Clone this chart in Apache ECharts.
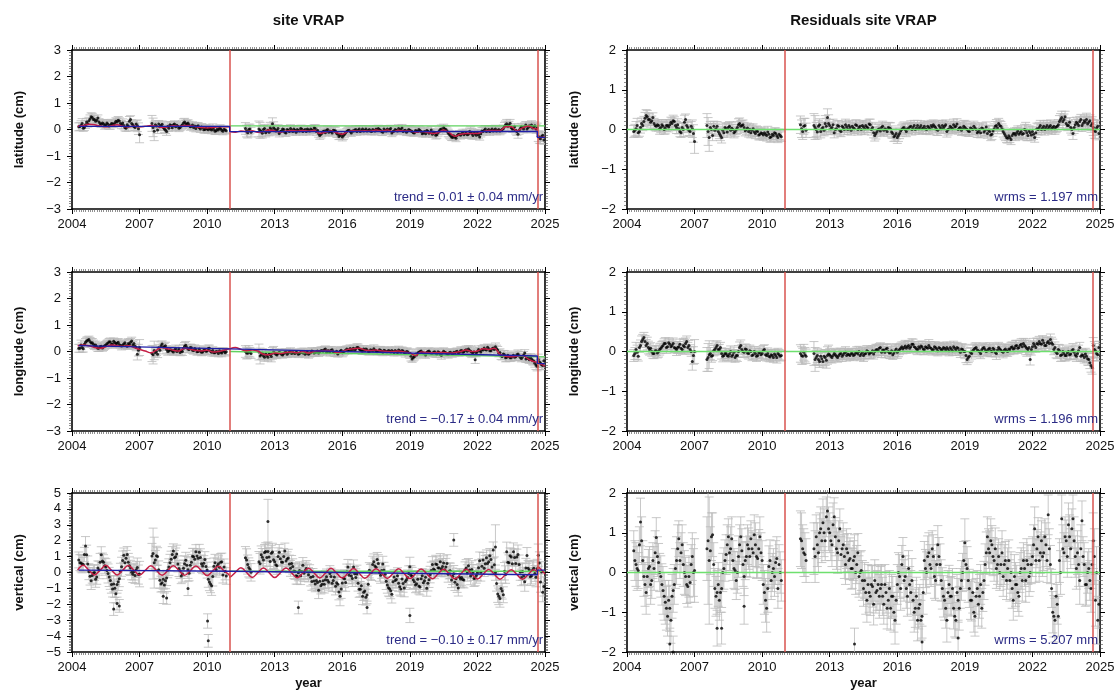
<!DOCTYPE html>
<html><head><meta charset="utf-8">
<script src="https://cdn.jsdelivr.net/npm/echarts@6/dist/echarts.min.js"></script>
<style>html,body{margin:0;padding:0;background:#fff}#c{width:1120px;height:691px}</style>
</head><body><div id="c"></div>
<script>
// ---------------- DATA ----------------
const epochs = [
 2004.3,2004.4,2004.5,2004.6,2004.7,2004.8,2004.9,
 2005.0,2005.1,2005.2,2005.3,2005.4,2005.5,2005.6,2005.7,2005.8,2005.9,
 2006.0,2006.1,2006.2,2006.3,2006.4,2006.5,2006.6,2006.7,2006.8,2006.9,
 2007.0,2007.6,2007.7,2007.8,2007.9,
 2008.0,2008.1,2008.2,2008.3,2008.4,2008.5,2008.6,2008.7,2008.8,2008.9,
 2009.0,2009.1,2009.2,2009.3,2009.4,2009.5,2009.6,2009.7,2009.8,2009.9,
 2010.0,2010.1,2010.2,2010.3,2010.4,2010.5,2010.6,2010.7,2010.8,
 2011.7,2011.8,2011.9,
 2012.3,2012.4,2012.5,2012.6,2012.7,2012.8,2012.9,
 2013.0,2013.1,2013.2,2013.3,2013.4,2013.5,2013.6,2013.7,2013.8,2013.9,
 2014.0,2014.1,2014.2,2014.3,2014.4,2014.5,2014.6,2014.7,2014.8,2014.9,
 2015.0,2015.1,2015.2,2015.3,2015.4,2015.5,2015.6,2015.7,2015.8,2015.9,
 2016.0,2016.1,2016.2,2016.3,2016.4,2016.5,2016.6,2016.7,2016.8,2016.9,
 2017.0,2017.1,2017.2,2017.3,2017.4,2017.5,2017.6,2017.7,2017.8,2017.9,
 2018.0,2018.1,2018.2,2018.3,2018.4,2018.5,2018.6,2018.7,2018.8,2018.9,
 2019.0,2019.1,2019.2,2019.3,2019.4,2019.5,2019.6,2019.7,2019.8,2019.9,
 2020.0,2020.1,2020.2,2020.3,2020.4,2020.5,2020.6,2020.7,2020.8,2020.9,
 2021.0,2021.1,2021.2,2021.3,2021.4,2021.5,2021.6,2021.7,2021.8,2021.9,
 2022.0,2022.1,2022.2,2022.3,2022.4,2022.5,2022.6,2022.7,2022.8,2022.9,
 2023.0,2023.1,2023.2,2023.3,2023.4,2023.5,2023.6,2023.7,2023.8,2023.9,
 2024.0,2024.1,2024.2,2024.3,2024.4,2024.5,2024.6,2024.7,2024.8,2024.9
];
// in-between epochs (second sample set)
const epochsB = [
 2004.35,2004.45,2004.55,2004.65,2004.75,2004.85,2004.95,
 2005.05,2005.15,2005.25,2005.35,2005.45,2005.55,2005.65,2005.75,2005.85,2005.95,
 2006.05,2006.15,2006.25,2006.35,2006.45,2006.55,2006.65,2006.75,2006.85,2006.95,
 2007.55,2007.65,2007.75,2007.85,2007.95,
 2008.05,2008.15,2008.25,2008.35,2008.45,2008.55,2008.65,2008.75,2008.85,2008.95,
 2009.05,2009.15,2009.25,2009.35,2009.45,2009.55,2009.65,2009.75,2009.85,2009.95,
 2010.05,2010.15,2010.25,2010.35,2010.45,2010.55,2010.65,2010.75,2010.85,
 2011.75,2011.85,2011.95,
 2012.35,2012.45,2012.55,2012.65,2012.75,2012.85,2012.95,
 2013.05,2013.15,2013.25,2013.35,2013.45,2013.55,2013.65,2013.75,2013.85,2013.95,
 2014.05,2014.15,2014.25,2014.35,2014.45,2014.55,2014.65,2014.75,2014.85,2014.95,
 2015.05,2015.15,2015.25,2015.35,2015.45,2015.55,2015.65,2015.75,2015.85,2015.95,
 2016.05,2016.15,2016.25,2016.35,2016.45,2016.55,2016.65,2016.75,2016.85,2016.95,
 2017.05,2017.15,2017.25,2017.35,2017.45,2017.55,2017.65,2017.75,2017.85,2017.95,
 2018.05,2018.15,2018.25,2018.35,2018.45,2018.55,2018.65,2018.75,2018.85,2018.95,
 2019.05,2019.15,2019.25,2019.35,2019.45,2019.55,2019.65,2019.75,2019.85,2019.95,
 2020.05,2020.15,2020.25,2020.35,2020.45,2020.55,2020.65,2020.75,2020.85,2020.95,
 2021.05,2021.15,2021.25,2021.35,2021.45,2021.55,2021.65,2021.75,2021.85,2021.95,
 2022.05,2022.15,2022.25,2022.35,2022.45,2022.55,2022.65,2022.75,2022.85,2022.95,
 2023.05,2023.15,2023.25,2023.35,2023.45,2023.55,2023.65,2023.75,2023.85,2023.95,
 2024.05,2024.15,2024.25,2024.35,2024.45,2024.55,2024.65,2024.75,2024.85,2024.95
];
const latPos = [
 0.10,0.15,0.05,0.18,0.22,0.40,0.45,
 0.38,0.35,0.28,0.20,0.22,0.18,0.20,0.16,0.22,0.25,
 0.28,0.32,0.18,0.15,0.05,0.12,0.38,0.18,0.08,0.14,
 -0.20,0.08,0.18,-0.02,0.10,
 0.20,0.02,-0.08,0.05,0.15,0.18,0.10,0.12,0.08,0.18,
 0.28,0.22,0.18,0.12,0.08,0.04,0.14,0.02,0.08,0.00,
 0.02,0.05,-0.02,0.00,-0.05,-0.02,0.03,-0.07,-0.02,
 0.04,-0.12,0.02,
 0.02,-0.08,0.00,-0.12,-0.03,0.07,0.22,
 0.02,-0.03,-0.15,-0.06,0.00,-0.13,-0.03,0.04,-0.08,-0.03,
 0.00,-0.06,0.02,-0.03,-0.08,-0.02,0.02,-0.04,0.04,-0.03,
 -0.23,-0.13,-0.06,-0.03,-0.10,-0.08,-0.03,-0.06,-0.18,-0.23,
 -0.28,-0.18,-0.08,-0.03,-0.13,-0.06,0.00,-0.03,-0.08,0.02,
 -0.03,-0.06,0.00,-0.08,-0.03,0.02,0.04,-0.03,-0.10,-0.03,
 0.02,0.00,-0.13,-0.06,-0.03,0.04,0.00,-0.08,-0.03,-0.06,
 -0.03,-0.08,-0.13,-0.06,0.00,-0.08,-0.13,-0.16,-0.06,-0.10,
 -0.18,-0.13,-0.20,-0.06,0.02,0.07,0.00,-0.13,-0.23,-0.30,
 -0.28,-0.23,-0.18,-0.16,-0.20,-0.13,-0.18,-0.10,-0.23,-0.16,
 -0.13,-0.28,-0.06,-0.03,-0.08,0.00,-0.03,-0.06,0.02,-0.03,
 -0.06,0.00,0.12,0.22,0.17,0.07,0.02,-0.03,-0.18,0.04,
 0.07,0.12,0.02,0.14,0.17,0.10,0.02,-0.25,-0.35,-0.22
];
const latPosB = [
 0.11,0.23,0.08,0.28,0.33,0.48,0.38,
 0.31,0.43,0.23,0.25,0.15,0.25,0.13,0.23,0.19,0.31,
 0.35,0.23,0.25,0.08,0.18,0.31,0.23,0.11,0.21,0.03,
 0.23,-0.07,0.13,0.21,0.15,
 0.08,-0.02,0.11,0.18,0.07,0.21,0.16,0.05,0.13,0.25,
 0.21,0.25,0.10,0.17,0.13,0.11,0.07,0.09,-0.01,0.05,
 -0.01,0.01,0.07,-0.07,0.01,0.05,-0.03,0.01,-0.05,
 -0.06,0.00,-0.10,
 -0.03,-0.14,0.04,-0.06,-0.10,0.00,0.07,
 -0.06,0.04,-0.08,0.02,-0.10,0.00,-0.08,-0.02,0.02,-0.10,
 -0.04,0.04,-0.08,0.00,0.02,-0.06,-0.02,0.06,-0.08,-0.16,
 -0.18,-0.08,-0.12,0.00,-0.06,-0.13,-0.04,-0.14,-0.26,-0.18,
 -0.23,-0.12,-0.04,-0.08,-0.06,-0.02,-0.08,0.02,-0.04,-0.06,
 0.02,-0.04,-0.06,0.00,-0.06,-0.02,0.00,-0.08,0.02,-0.06,
 -0.04,0.04,-0.08,0.00,-0.06,-0.02,0.06,-0.04,-0.10,0.00,
 -0.06,-0.12,-0.04,-0.08,-0.04,-0.16,-0.08,-0.04,-0.14,-0.02,
 -0.10,-0.22,-0.12,0.00,-0.04,0.02,-0.06,-0.18,-0.28,-0.24,
 -0.33,-0.18,-0.22,-0.12,-0.16,-0.20,-0.08,-0.16,-0.12,-0.22,
 -0.20,-0.16,-0.08,0.02,-0.04,-0.08,0.02,-0.02,-0.06,0.00,
 -0.02,0.04,0.17,0.12,0.24,0.02,0.10,-0.08,-0.03,0.10,
 0.02,0.17,0.08,0.10,0.06,0.14,0.07,-0.32,-0.26,-0.40
];
const latRes = [
 -0.05,0.02,-0.08,0.05,0.10,0.28,0.32,
 0.25,0.22,0.15,0.08,0.10,0.05,0.08,0.04,0.10,0.12,
 0.15,0.20,0.05,0.02,-0.08,0.00,0.25,0.05,-0.05,0.02,
 -0.30,-0.05,0.05,-0.15,-0.02,
 0.08,-0.10,-0.20,-0.08,0.02,0.05,-0.02,0.00,-0.05,0.05,
 0.15,0.10,0.05,0.00,-0.05,-0.08,0.02,-0.10,-0.05,-0.12,
 -0.10,-0.08,-0.15,-0.12,-0.18,-0.15,-0.10,-0.20,-0.15,
 0.12,-0.05,0.10,
 0.10,0.00,0.08,-0.05,0.05,0.15,0.30,
 0.10,0.05,-0.08,0.02,0.08,-0.05,0.05,0.12,0.00,0.05,
 0.08,0.02,0.10,0.05,0.00,0.06,0.10,0.04,0.12,0.05,
 -0.15,-0.05,0.02,0.05,-0.02,0.00,0.05,0.02,-0.10,-0.15,
 -0.20,-0.10,0.00,0.05,-0.05,0.02,0.08,0.05,0.00,0.10,
 0.05,0.02,0.08,0.00,0.05,0.10,0.12,0.05,-0.02,0.05,
 0.10,0.08,-0.05,0.02,0.05,0.12,0.08,0.00,0.05,0.02,
 0.05,0.00,-0.05,0.02,0.08,0.00,-0.05,-0.08,0.02,-0.02,
 -0.10,-0.05,-0.12,0.02,0.10,0.15,0.08,-0.05,-0.15,-0.22,
 -0.20,-0.15,-0.10,-0.08,-0.12,-0.05,-0.10,-0.02,-0.15,-0.08,
 -0.05,-0.20,0.02,0.05,0.00,0.08,0.05,0.02,0.10,0.05,
 0.02,0.08,0.20,0.30,0.25,0.15,0.10,0.05,-0.10,0.12,
 0.15,0.20,0.10,0.22,0.25,0.18,0.10,0.05,-0.05,0.08
];
const latResB = [
 -0.02,0.10,-0.05,0.15,0.20,0.35,0.25,
 0.18,0.30,0.10,0.12,0.02,0.12,0.00,0.10,0.06,0.18,
 0.22,0.10,0.12,-0.05,0.05,0.18,0.10,-0.02,0.08,-0.10,
 0.10,-0.20,0.00,0.08,0.02,
 -0.05,-0.15,-0.02,0.05,-0.06,0.08,0.03,-0.08,0.00,0.12,
 0.08,0.12,-0.03,0.04,0.00,-0.02,-0.06,-0.04,-0.14,-0.08,
 -0.14,-0.12,-0.06,-0.20,-0.12,-0.08,-0.16,-0.12,-0.18,
 0.02,0.08,-0.02,
 0.05,-0.06,0.12,0.02,-0.02,0.08,0.15,
 0.02,0.12,0.00,0.10,-0.02,0.08,0.00,0.06,0.10,-0.02,
 0.04,0.12,0.00,0.08,0.10,0.02,0.06,0.14,0.00,-0.08,
 -0.10,0.00,-0.04,0.08,0.02,-0.05,0.04,-0.06,-0.18,-0.10,
 -0.15,-0.04,0.04,0.00,0.02,0.06,0.00,0.10,0.04,0.02,
 0.10,0.04,0.02,0.08,0.02,0.06,0.08,0.00,0.10,0.02,
 0.04,0.12,0.00,0.08,0.02,0.06,0.14,0.04,-0.02,0.08,
 0.02,-0.04,0.04,0.00,0.04,-0.08,0.00,0.04,-0.06,0.06,
 -0.02,-0.14,-0.04,0.08,0.04,0.10,0.02,-0.10,-0.20,-0.16,
 -0.25,-0.10,-0.14,-0.04,-0.08,-0.12,0.00,-0.08,-0.04,-0.14,
 -0.12,-0.08,0.00,0.10,0.04,0.00,0.10,0.06,0.02,0.08,
 0.06,0.12,0.25,0.20,0.32,0.10,0.18,0.00,0.05,0.18,
 0.10,0.25,0.16,0.18,0.14,0.22,0.15,-0.02,0.04,-0.10
];
const lonPos = [
 0.12,0.25,0.10,0.35,0.42,0.38,0.33,
 0.22,0.18,0.13,0.20,0.18,0.25,0.32,0.36,0.28,0.34,
 0.31,0.26,0.21,0.28,0.23,0.30,0.35,0.25,0.20,-0.10,
 0.15,-0.12,-0.05,-0.10,0.05,
 0.28,0.18,0.08,0.02,0.06,-0.02,0.10,0.03,-0.04,0.00,
 0.20,0.15,0.08,0.14,0.04,0.08,0.00,0.02,-0.02,0.06,
 0.02,0.12,-0.03,-0.05,0.00,-0.08,-0.03,0.02,-0.05,
 0.00,-0.07,-0.03,
 -0.02,-0.12,-0.17,-0.09,-0.22,-0.12,-0.07,
 -0.06,-0.13,-0.03,-0.10,-0.08,-0.03,-0.06,0.00,-0.04,-0.08,
 -0.05,-0.08,-0.02,0.00,-0.06,-0.10,-0.05,0.00,-0.04,0.02,
 -0.01,0.04,0.07,-0.03,0.03,0.05,-0.01,-0.04,-0.09,0.01,
 -0.05,0.02,0.09,0.07,0.05,0.12,0.09,0.15,0.07,0.02,
 0.03,0.07,0.00,0.05,0.10,0.03,0.00,0.05,-0.03,0.03,
 -0.01,0.02,0.04,-0.04,0.00,0.06,-0.02,0.02,-0.08,-0.01,
 -0.08,-0.28,-0.20,-0.13,-0.03,0.02,-0.06,-0.13,0.00,-0.03,
 -0.07,-0.01,-0.09,-0.04,-0.14,0.01,-0.05,-0.11,-0.03,-0.09,
 -0.06,0.01,-0.03,0.04,-0.01,0.07,0.09,0.01,-0.06,-0.31,
 0.00,0.03,0.08,0.13,0.06,0.10,0.03,0.13,0.18,0.06,
 -0.04,-0.19,-0.12,-0.22,-0.19,-0.24,-0.14,-0.20,-0.09,-0.22,
 -0.21,-0.06,-0.24,-0.31,-0.28,-0.36,-0.51,-0.30,-0.43,-0.53
];
const lonPosB = [
 0.12,0.15,0.27,0.40,0.45,0.32,0.27,
 0.25,0.12,0.19,0.13,0.22,0.29,0.37,0.27,0.39,0.29,
 0.35,0.23,0.25,0.33,0.20,0.27,0.40,0.30,0.15,0.05,
 -0.08,0.04,0.00,0.14,0.22,
 0.17,0.22,0.00,0.07,0.02,0.06,0.00,0.10,0.02,0.12,
 0.24,0.09,0.15,0.05,0.11,-0.01,0.09,-0.03,0.05,0.01,
 0.11,0.01,0.04,-0.05,-0.01,0.03,-0.06,0.01,-0.01,
 -0.06,0.02,-0.08,
 -0.17,-0.07,-0.22,-0.15,-0.09,-0.19,-0.03,
 -0.10,-0.08,-0.06,-0.13,-0.04,-0.10,-0.02,-0.08,-0.06,-0.03,
 -0.10,-0.04,-0.06,-0.10,-0.02,-0.06,0.02,-0.06,-0.02,-0.06,
 0.03,0.01,0.09,0.03,-0.03,0.07,-0.05,0.01,-0.05,0.05,
 -0.01,0.05,0.03,0.11,0.09,0.05,0.15,0.09,0.03,0.09,
 0.09,0.01,0.07,0.03,0.05,-0.01,0.07,0.01,0.05,-0.01,
 0.04,-0.02,0.00,0.04,-0.04,0.02,0.04,-0.04,0.00,-0.06,
 -0.18,-0.23,-0.10,-0.06,0.00,-0.04,-0.08,-0.04,0.02,-0.08,
 -0.03,-0.07,-0.01,-0.11,-0.05,-0.03,-0.09,-0.05,-0.07,-0.03,
 -0.01,-0.05,0.03,-0.03,0.05,0.01,0.04,-0.03,-0.01,-0.06,
 0.08,-0.02,0.06,0.08,0.16,0.03,0.10,0.08,0.10,-0.07,
 -0.16,-0.09,-0.24,-0.14,-0.24,-0.18,-0.22,-0.12,-0.16,-0.26,
 -0.14,-0.28,-0.26,-0.22,-0.34,-0.44,-0.56,-0.40,-0.50,-0.35
];
const lonRes = [
 -0.10,0.05,-0.12,0.15,0.30,0.25,0.20,
 0.05,0.00,-0.05,0.02,0.00,0.08,0.15,0.20,0.12,0.18,
 0.15,0.10,0.05,0.12,0.08,0.15,0.20,0.10,0.05,-0.25,
 0.00,-0.15,-0.05,-0.10,0.05,
 0.15,0.05,-0.05,-0.10,-0.05,-0.12,0.00,-0.08,-0.15,-0.10,
 0.10,0.05,-0.02,0.05,-0.05,0.00,-0.08,-0.05,-0.10,-0.02,
 -0.05,0.05,-0.10,-0.12,-0.08,-0.15,-0.10,-0.05,-0.12,
 -0.05,-0.12,-0.08,
 -0.05,-0.15,-0.20,-0.12,-0.25,-0.15,-0.10,
 -0.08,-0.15,-0.05,-0.12,-0.10,-0.05,-0.08,-0.02,-0.06,-0.10,
 -0.05,-0.08,-0.02,0.00,-0.06,-0.10,-0.05,0.00,-0.04,0.02,
 0.00,0.05,0.08,-0.02,0.04,0.06,0.00,-0.03,-0.08,0.02,
 -0.02,0.05,0.12,0.10,0.08,0.15,0.12,0.18,0.10,0.05,
 0.08,0.12,0.05,0.10,0.15,0.08,0.05,0.10,0.02,0.08,
 0.05,0.08,0.10,0.02,0.06,0.12,0.04,0.08,-0.02,0.05,
 0.00,-0.20,-0.12,-0.05,0.05,0.10,0.02,-0.05,0.08,0.05,
 0.02,0.08,0.00,0.05,-0.05,0.10,0.04,-0.02,0.06,0.00,
 0.05,0.12,0.08,0.15,0.10,0.18,0.20,0.12,0.05,-0.20,
 0.12,0.15,0.20,0.25,0.18,0.22,0.15,0.25,0.30,0.18,
 0.10,-0.05,0.02,-0.08,-0.05,-0.10,0.00,-0.06,0.05,-0.08,
 -0.05,0.10,-0.08,-0.15,-0.12,-0.20,-0.35,0.15,0.02,-0.08
];
const lonResB = [
 -0.05,-0.02,0.10,0.25,0.35,0.15,0.10,
 0.08,-0.05,0.02,-0.04,0.05,0.12,0.20,0.10,0.22,0.12,
 0.20,0.08,0.10,0.18,0.05,0.12,0.25,0.15,0.00,-0.10,
 -0.20,-0.08,-0.12,0.02,0.10,
 0.05,0.10,-0.12,-0.05,-0.10,-0.06,-0.12,-0.02,-0.10,0.00,
 0.15,0.00,0.06,-0.04,0.02,-0.10,0.00,-0.12,-0.04,-0.08,
 0.02,-0.08,-0.05,-0.14,-0.10,-0.06,-0.15,-0.08,-0.10,
 -0.10,-0.02,-0.12,
 -0.20,-0.10,-0.25,-0.18,-0.12,-0.22,-0.06,
 -0.12,-0.10,-0.08,-0.15,-0.06,-0.12,-0.04,-0.10,-0.08,-0.05,
 -0.10,-0.04,-0.06,-0.10,-0.02,-0.06,0.02,-0.06,-0.02,-0.06,
 0.04,0.02,0.10,0.04,-0.02,0.08,-0.04,0.02,-0.04,0.06,
 0.02,0.08,0.06,0.14,0.12,0.08,0.18,0.12,0.06,0.12,
 0.14,0.06,0.12,0.08,0.10,0.04,0.12,0.06,0.10,0.04,
 0.10,0.04,0.06,0.10,0.02,0.08,0.10,0.02,0.06,0.00,
 -0.10,-0.15,-0.02,0.02,0.08,0.04,0.00,0.04,0.10,0.00,
 0.06,0.02,0.08,-0.02,0.04,0.06,0.00,0.04,0.02,0.06,
 0.10,0.06,0.14,0.08,0.16,0.12,0.15,0.08,0.10,0.05,
 0.20,0.10,0.18,0.20,0.28,0.15,0.22,0.20,0.22,0.05,
 -0.02,0.05,-0.10,0.00,-0.10,-0.04,-0.08,0.02,-0.02,-0.12,
 0.02,-0.12,-0.10,-0.06,-0.18,-0.28,-0.40,0.05,-0.05,0.10
];
const upPos = [
 0.79,0.59,0.50,1.66,0.54,-0.24,-0.19,
 0.00,-0.29,0.16,1.12,0.64,0.35,-0.06,-0.51,-1.04,-0.99,
 -0.75,-0.39,0.36,1.09,0.89,0.65,0.29,-0.11,-0.19,0.31,
 -0.10,1.19,0.79,1.01,-0.49,
 -0.65,-0.79,-0.34,0.34,0.84,1.35,0.99,0.54,0.11,-0.09,
 0.55,0.46,-0.04,0.64,0.99,1.30,0.89,0.94,0.41,0.81,
 0.15,-0.59,-0.84,0.39,0.19,0.55,0.64,-0.16,0.06,
 0.93,0.50,0.20,
 0.67,1.12,0.78,1.32,1.32,0.69,1.29,
 0.67,0.43,1.28,0.66,1.01,0.72,0.91,0.26,0.38,0.08,
 -0.24,0.12,0.07,-0.05,0.25,-0.14,-0.30,-0.25,-0.73,-0.63,
 -0.55,-0.74,-0.74,-0.26,-0.61,-0.25,-0.51,-0.86,-0.74,-1.49,
 -0.66,-0.40,0.05,-0.17,-0.22,0.34,-0.32,-0.67,-1.05,-1.50,
 -1.17,-1.41,0.14,0.02,0.67,0.33,0.57,-0.18,0.54,-0.11,
 -0.78,-1.02,-1.37,-0.29,-0.44,-0.68,-1.04,-0.69,-0.57,-0.32,
 0.36,-0.23,-0.58,-0.70,-0.85,-0.39,-0.65,-0.30,-0.68,-0.13,
 0.50,0.16,0.51,0.29,0.24,0.60,0.34,-0.11,0.11,-0.24,
 -0.61,-0.75,-0.30,-0.32,-0.47,0.29,0.43,-0.22,0.00,-0.35,
 -0.02,0.74,0.39,0.27,0.92,0.68,0.82,1.42,-0.01,-1.36,
 -1.63,-1.17,0.08,1.31,0.61,0.97,1.31,0.56,1.13,0.03,
 0.06,-0.58,1.07,0.15,-0.20,0.26,-0.30,1.09,-0.59,-1.24
];
const upPosB = [
 0.62,0.53,1.13,1.12,0.05,-0.52,-0.03,
 -0.43,0.28,0.65,0.72,0.43,0.13,-0.28,-0.75,-0.72,-1.33,
 -0.58,0.08,0.75,0.62,1.13,0.43,0.02,0.05,0.18,-0.13,
 1.03,0.62,1.05,0.18,-0.73,
 -0.43,-0.52,0.15,0.62,1.13,0.93,1.17,0.25,-0.22,0.27,
 0.77,0.18,0.45,1.02,0.83,1.03,1.27,0.55,0.58,0.37,
 -0.43,-0.72,-0.25,0.62,0.43,0.33,0.67,0.35,-0.22,
 0.79,0.32,0.01,
 0.55,0.96,1.26,0.95,0.98,1.21,0.80,
 0.49,1.00,0.87,0.64,1.35,0.85,0.54,0.57,0.10,-0.21,
 -0.02,-0.21,0.46,0.13,0.04,0.04,-0.57,-0.54,-0.51,-1.12,
 -0.83,-0.52,-0.45,-0.48,-0.07,-0.67,-0.28,-0.65,-1.22,-1.03,
 -0.34,-0.63,0.34,0.01,-0.38,-0.08,-0.09,-1.06,-0.83,-1.24,
 -1.55,-0.74,0.03,0.50,0.41,0.81,0.00,0.13,0.16,-0.55,
 -0.96,-1.15,-0.58,-0.51,-0.20,-0.90,-0.41,-0.98,-0.45,-0.06,
 -0.17,-0.46,-0.79,-0.42,-0.91,-0.21,-0.52,-0.99,-0.46,0.13,
 0.22,0.53,0.30,0.67,0.38,0.18,0.57,0.10,-0.47,-0.08,
 -0.39,-0.98,-0.41,-0.44,0.17,-0.03,0.16,0.19,-0.38,-0.19,
 0.30,0.01,0.78,0.55,0.56,1.06,0.35,0.48,-0.69,-1.50,
 -1.01,-1.40,-0.13,0.64,1.05,0.55,0.94,0.97,0.50,-0.31,
 -0.22,0.29,0.26,-0.27,0.14,-0.06,0.23,0.60,0.03,-0.88
];
const upRes = [
 0.55,0.20,0.05,1.27,0.30,-0.30,-0.10,
 0.15,-0.20,0.10,0.88,0.25,-0.10,-0.45,-0.75,-1.10,-0.90,
 -0.60,-0.30,0.30,0.85,0.50,0.20,-0.10,-0.35,-0.25,0.40,
 0.05,0.80,0.55,0.95,-0.40,
 -0.50,-0.70,-0.40,0.10,0.45,0.90,0.60,0.30,0.05,0.00,
 0.70,0.55,-0.10,0.40,0.60,0.85,0.50,0.70,0.35,0.90,
 0.30,-0.50,-0.90,0.15,-0.20,0.10,0.25,-0.40,0.00,
 0.85,0.60,0.45,
 0.60,0.90,0.50,1.10,1.25,0.80,1.55,
 1.00,0.70,1.40,0.60,0.80,0.45,0.70,0.20,0.50,0.35,
 0.10,0.40,0.20,-0.10,0.05,-0.40,-0.50,-0.30,-0.60,-0.35,
 -0.20,-0.45,-0.60,-0.30,-0.80,-0.50,-0.70,-0.90,-0.60,-1.20,
 -0.30,-0.10,0.20,-0.20,-0.40,0.10,-0.50,-0.70,-0.90,-1.20,
 -0.80,-1.10,0.30,0.00,0.50,0.10,0.40,-0.20,0.70,0.20,
 -0.40,-0.70,-1.20,-0.30,-0.60,-0.90,-1.20,-0.70,-0.40,0.00,
 0.75,0.10,-0.40,-0.70,-1.00,-0.60,-0.80,-0.30,-0.50,0.20,
 0.90,0.50,0.70,0.30,0.10,0.40,0.20,-0.10,0.30,0.10,
 -0.20,-0.40,-0.10,-0.30,-0.60,0.10,0.30,-0.20,0.20,0.00,
 0.40,1.10,0.60,0.30,0.80,0.50,0.70,1.45,0.20,-1.00,
 -1.20,-0.80,0.30,1.35,0.50,0.80,1.20,0.60,1.35,0.40,
 0.50,-0.20,1.30,0.20,-0.30,0.10,-0.40,0.80,-0.70,-1.20
];
const upResB = [
 0.30,0.10,0.70,0.80,-0.10,-0.50,0.10,
 -0.30,0.30,0.50,0.40,0.00,-0.30,-0.60,-0.90,-0.70,-1.20,
 -0.45,0.10,0.60,0.30,0.70,0.00,-0.30,-0.10,0.20,0.00,
 0.60,0.30,0.90,0.20,-0.60,
 -0.30,-0.50,0.00,0.30,0.70,0.50,0.85,0.10,-0.20,0.40,
 0.90,0.20,0.30,0.70,0.40,0.60,0.95,0.40,0.60,0.50,
 -0.30,-0.70,-0.40,0.30,0.00,-0.10,0.35,0.20,-0.20,
 0.80,0.50,0.30,
 0.40,0.70,1.00,0.80,1.00,1.40,1.10,
 0.80,1.20,0.90,0.50,1.10,0.60,0.40,0.60,0.30,0.10,
 0.30,0.00,0.50,0.00,-0.20,-0.20,-0.70,-0.50,-0.30,-0.80,
 -0.50,-0.30,-0.40,-0.60,-0.30,-0.90,-0.40,-0.60,-1.00,-0.70,
 0.00,-0.40,0.40,-0.10,-0.60,-0.30,-0.20,-1.00,-0.60,-0.90,
 -1.20,-0.50,0.10,0.40,0.20,0.60,-0.10,0.20,0.40,-0.20,
 -0.60,-0.90,-0.50,-0.60,-0.40,-1.10,-0.50,-0.90,-0.20,0.30,
 0.20,-0.20,-0.70,-0.50,-1.10,-0.40,-0.60,-0.90,-0.20,0.50,
 0.60,0.80,0.40,0.60,0.20,0.00,0.50,0.20,-0.20,0.30,
 0.00,-0.70,-0.30,-0.50,0.00,-0.20,0.10,0.30,-0.10,0.20,
 0.70,0.30,0.90,0.50,0.40,0.90,0.30,0.60,-0.40,-1.10,
 -0.60,-1.10,0.00,0.60,0.90,0.40,0.90,1.10,0.80,0.10,
 0.20,0.60,0.40,-0.30,0.00,-0.20,0.20,0.40,0.00,-0.80
];
const horErr = [
 0.15,0.18,0.12,0.14,0.13,0.15,0.16,
 0.14,0.12,0.13,0.12,0.14,0.13,0.12,0.15,0.12,0.13,
 0.14,0.12,0.15,0.13,0.12,0.18,0.14,0.13,0.12,0.22,
 0.30,0.35,0.15,0.13,0.14,
 0.12,0.13,0.14,0.12,0.13,0.12,0.14,0.13,0.12,0.15,
 0.14,0.12,0.13,0.12,0.14,0.13,0.12,0.13,0.12,0.14,
 0.13,0.12,0.14,0.12,0.13,0.12,0.14,0.13,0.12,
 0.22,0.20,0.18,
 0.30,0.18,0.15,0.16,0.14,0.20,0.22,
 0.15,0.14,0.13,0.12,0.14,0.13,0.12,0.14,0.13,0.12,
 0.13,0.12,0.14,0.13,0.12,0.15,0.13,0.12,0.14,0.13,
 0.14,0.13,0.12,0.13,0.14,0.12,0.13,0.15,0.12,0.14,
 0.15,0.13,0.12,0.14,0.13,0.12,0.14,0.13,0.12,0.13,
 0.12,0.14,0.13,0.12,0.15,0.13,0.12,0.14,0.13,0.12,
 0.13,0.12,0.14,0.13,0.12,0.14,0.13,0.12,0.13,0.14,
 0.18,0.13,0.12,0.14,0.13,0.12,0.14,0.13,0.12,0.13,
 0.12,0.14,0.13,0.12,0.15,0.13,0.12,0.14,0.13,0.12,
 0.13,0.12,0.14,0.13,0.12,0.14,0.13,0.20,0.13,0.14,
 0.13,0.12,0.14,0.13,0.12,0.14,0.13,0.12,0.14,0.13,
 0.14,0.13,0.15,0.16,0.14,0.13,0.12,0.14,0.15,0.13,
 0.14,0.13,0.15,0.14,0.16,0.15,0.17,0.20,0.18,0.16
];
const upErr = [
 0.50,0.55,0.45,0.60,0.50,0.55,0.48,
 0.50,0.45,0.55,0.50,0.48,0.52,0.60,0.55,0.50,0.58,
 0.55,0.50,0.60,0.45,0.50,0.55,0.48,0.52,0.50,0.60,
 0.80,1.60,0.60,0.55,0.50,
 0.55,0.50,0.48,0.52,0.50,0.45,0.55,0.50,0.48,0.52,
 0.50,0.55,0.48,0.50,0.52,0.45,0.50,0.55,0.48,0.50,
 0.50,0.55,0.60,0.52,0.48,0.50,0.55,0.50,0.52,
 0.70,0.60,0.55,
 0.65,0.55,0.50,0.55,0.60,0.50,0.55,
 0.50,0.55,0.48,0.52,0.50,0.45,0.55,0.50,0.48,0.52,
 0.50,0.55,0.48,0.52,0.50,0.45,0.55,0.50,0.48,0.52,
 0.52,0.50,0.55,0.48,0.50,0.52,0.45,0.55,0.50,0.60,
 0.50,0.55,0.48,0.52,0.50,0.45,0.55,0.50,0.48,0.52,
 0.50,0.55,0.48,0.52,0.50,0.45,0.55,0.50,0.48,0.52,
 0.52,0.50,0.55,0.48,0.50,0.52,0.45,0.55,0.50,0.48,
 0.60,0.55,0.48,0.52,0.50,0.45,0.55,0.50,0.48,0.52,
 0.50,0.55,0.48,0.52,0.50,0.45,0.55,0.50,0.48,0.52,
 0.52,0.50,0.55,0.48,0.50,0.52,0.45,0.55,0.50,0.48,
 0.50,0.55,0.48,0.52,0.50,0.45,0.55,0.50,0.48,0.52,
 0.55,0.50,0.55,0.60,0.50,0.52,0.55,0.50,0.60,0.52,
 0.55,0.60,0.50,0.55,0.52,0.50,0.60,0.70,0.65,0.60
];
const upOutT = [2005.85,2006.0,2006.1,2008.05,2008.2,2009.15,2010.02,2010.05,2012.7,2014.05,2017.1,2019.0,2020.95,2022.8];
const upOutV = [-2.30,-1.95,-2.10,-1.50,-1.60,-1.00,-3.05,-4.30,3.20,-2.20,-2.20,-2.70,2.05,1.60];
const upOutE = [0.40,0.40,0.40,0.45,0.40,0.45,0.45,0.40,1.40,0.40,0.40,0.45,0.40,1.40];
const upResOutT = [2005.9,2006.05,2008.0,2008.2,2009.2,2014.1,2017.1,2018.7];
const upResOutV = [-1.80,-2.00,-1.40,-1.40,-0.85,-1.80,-1.75,-1.65];
const upResOutE = [0.40,0.40,0.45,0.40,0.45,0.40,0.40,0.45];
const modelT = [
 2004.25,2004.5,2004.75,
 2005,2005.25,2005.5,2005.75, 2006,2006.25,2006.5,2006.75, 2007,2007.25,2007.5,2007.75,
 2008,2008.25,2008.5,2008.75, 2009,2009.25,2009.5,2009.75, 2010,2010.25,2010.5,2010.75,
 2011.0, 2011.01,
 2011.25,2011.5,2011.75,
 2012,2012.25,2012.5,2012.75, 2013,2013.25,2013.5,2013.75, 2014,2014.25,2014.5,2014.75,
 2015,2015.25,2015.5,2015.75, 2016,2016.25,2016.5,2016.75, 2017,2017.25,2017.5,2017.75,
 2018,2018.25,2018.5,2018.75, 2019,2019.25,2019.5,2019.75, 2020,2020.25,2020.5,2020.75,
 2021,2021.25,2021.5,2021.75, 2022,2022.25,2022.5,2022.75, 2023,2023.25,2023.5,2023.75,
 2024,2024.25,2024.5,
 2024.66,2024.67,2024.75,2025
];
const latModel = [
 0.12,0.15,0.20,
 0.18,0.13,0.10,0.14, 0.18,0.12,0.10,0.12, 0.10,0.12,0.15,0.12,
 0.08,0.10,0.14,0.12, 0.15,0.14,0.10,0.08, 0.06,0.08,0.10,0.10,
 0.10, -0.05,
 -0.10,-0.06,-0.08,
 -0.05,-0.10,-0.08,-0.02, -0.06,-0.10,-0.06,-0.04, -0.06,-0.04,-0.06,-0.03,
 -0.15,-0.10,-0.06,-0.12, -0.18,-0.08,-0.05,-0.06, -0.05,-0.06,-0.02,-0.06,
 -0.02,-0.08,-0.03,-0.06, -0.06,-0.10,-0.08,-0.10, -0.15,-0.12,-0.02,-0.12,
 -0.25,-0.18,-0.15,-0.15, -0.15,-0.08,-0.04,-0.04, -0.04,0.10,0.10,-0.05,
 0.06,0.12,0.04,
 0.02,-0.28,-0.30,-0.28
];
const lonModel = [
 0.22,0.25,0.22,
 0.15,0.12,0.18,0.25, 0.22,0.20,0.22,0.15, 0.08,0.02,-0.05,0.05,
 0.15,0.10,0.05,0.02, 0.12,0.08,0.04,0.02, 0.05,-0.02,0.00,0.05,
 0.10, 0.10,
 0.15,0.08,0.03,
 0.06,0.02,-0.10,-0.12, -0.06,-0.08,-0.04,-0.02, -0.05,0.00,-0.06,0.00,
 0.02,0.04,0.03,-0.04, 0.00,0.08,0.10,0.12, 0.06,0.04,0.06,0.02,
 0.00,0.00,0.02,-0.02, -0.06,-0.15,-0.02,-0.04, -0.05,-0.04,-0.04,-0.06,
 -0.04,0.00,0.06,0.00, 0.02,0.10,0.08,0.12, -0.10,-0.18,-0.20,-0.18,
 -0.15,-0.28,-0.38,
 -0.40,-0.42,-0.45,-0.55
];
const upModel = [
 0.15,0.45,0.15,
 -0.15,0.15,0.45,0.15, -0.15,0.14,0.44,0.14, -0.16,0.13,0.43,0.13,
 -0.17,0.12,0.42,0.12, -0.18,0.11,0.41,0.11, -0.19,0.10,0.40,0.10,
 -0.20, -0.30,
 0.00,0.30,0.00,
 -0.31,-0.01,0.29,-0.01, -0.32,-0.02,0.28,-0.02, -0.33,-0.03,0.27,-0.03,
 -0.34,-0.04,0.26,-0.04, -0.35,-0.05,0.25,-0.05, -0.36,-0.06,0.24,-0.06,
 -0.37,-0.07,0.23,-0.07, -0.38,-0.08,0.22,-0.08, -0.39,-0.09,0.21,-0.09,
 -0.40,-0.10,0.20,-0.10, -0.41,-0.11,0.19,-0.11, -0.42,-0.12,0.18,-0.12,
 -0.43,-0.13,0.17,
 0.05,0.35,0.30,-0.10
];
const trendT   = [2004.3, 2011.0, 2011.0, 2024.66, 2024.66, 2025.0];
const latTrend = [0.12, 0.12, -0.08, -0.07, -0.30, -0.30];
const lonTrend = [0.22, 0.10, 0.05, -0.17, -0.45, -0.46];
const upTrend  = [0.15, 0.08, 0.00, -0.14, 0.15, 0.15];
const refT   = [2011.0, 2025.0];
const latRef = [0.14, 0.14];
const lonRef = [0.00, -0.20];
const upRef  = [0.08, 0.08];
const zeroT = [2004, 2025];
const zeroV = [0, 0];
const breaks = [2011.0, 2024.66];
const titles = ['site VRAP', 'Residuals site VRAP'];
const yNames = ['latitude (cm)', 'longitude (cm)', 'vertical (cm)'];
const leftRanges  = [[-3, 3], [-3, 3], [-5, 5]];
const rightRanges = [[-2, 2], [-2, 2], [-2, 2]];
const trendTexts = ['trend = 0.01 \u00b1 0.04 mm/yr', 'trend = \u22120.17 \u00b1 0.04 mm/yr', 'trend = \u22120.10 \u00b1 0.17 mm/yr'];
const wrmsTexts  = ['wrms = 1.197 mm', 'wrms = 1.196 mm', 'wrms = 5.207 mm'];

// ---------------- LAYOUT ----------------
const FONT = "'Liberation Sans', Arial, Helvetica, sans-serif";
const colLeft = [72, 627], colW = 473;
const rowTop = [50, 272, 493], rowH = 159;

const zip2 = (t, v) => t.map((x, i) => [x, v[i]]);
const zip3 = (t, v, e) => t.map((x, i) => [x, v[i], e[i]]);

function errRender(params, api) {
  const x = api.value(0), y = api.value(1), e = api.value(2);
  const a = api.coord([x, y + e]), b = api.coord([x, y - e]);
  const hw = 4.5;
  const st = { stroke: '#bababa', lineWidth: 0.8 };
  return { type: 'group', children: [
    { type: 'line', shape: { x1: a[0], y1: a[1], x2: b[0], y2: b[1] }, style: st },
    { type: 'line', shape: { x1: a[0] - hw, y1: a[1], x2: a[0] + hw, y2: a[1] }, style: st },
    { type: 'line', shape: { x1: b[0] - hw, y1: b[1], x2: b[0] + hw, y2: b[1] }, style: st }
  ]};
}

const grids = [], xAxes = [], yAxes = [], series = [], graphics = [];
const minus = v => String(v).replace('-', '\u2212');
const plain = v => String(v);

function addPanel(r, c, range, pts, ptsErr, lines) {
  const gi = grids.length;
  grids.push({ left: colLeft[c], top: rowTop[r], width: colW, height: rowH });
  const xBase = {
    gridIndex: gi, type: 'value', min: 2004, max: 2025, interval: 3,
    splitLine: { show: false },
    axisLine: { show: true, onZero: false, lineStyle: { color: '#000', width: 1.6 } },
    axisTick: { show: true, length: 5, lineStyle: { color: '#000', width: 1 } },
    minorTick: { show: true, splitNumber: 30, length: 3, lineStyle: { color: '#444', width: 0.6 } }
  };
  xAxes.push(Object.assign({}, xBase, {
    position: 'bottom',
    axisLabel: { fontSize: 13, color: '#111', fontFamily: FONT, margin: 9, formatter: plain },
    name: r === 2 ? 'year' : '', nameLocation: 'middle', nameGap: 25,
    nameTextStyle: { fontSize: 13, fontWeight: 'bold', color: '#111', fontFamily: FONT }
  }));
  xAxes.push(Object.assign({}, xBase, { position: 'top', axisLabel: { show: false } }));
  const yBase = {
    gridIndex: gi, type: 'value', min: range[0], max: range[1], interval: 1,
    splitLine: { show: false },
    axisLine: { show: true, onZero: false, lineStyle: { color: '#000', width: 1.6 } },
    axisTick: { show: true, length: 5, lineStyle: { color: '#000', width: 1 } },
    minorTick: { show: true, splitNumber: 10, length: 3, lineStyle: { color: '#444', width: 0.6 } }
  };
  yAxes.push(Object.assign({}, yBase, {
    position: 'left',
    axisLabel: { fontSize: 13, color: '#111', fontFamily: FONT, margin: 11, formatter: minus },
    name: yNames[r], nameLocation: 'middle', nameGap: 46, nameRotate: 90,
    nameTextStyle: { fontSize: 13, fontWeight: 'bold', color: '#111', fontFamily: FONT }
  }));
  yAxes.push(Object.assign({}, yBase, { position: 'right', axisLabel: { show: false } }));
  const xi = gi * 2, yi = gi * 2;

  series.push({ type: 'custom', xAxisIndex: xi, yAxisIndex: yi, renderItem: errRender,
    data: ptsErr, clip: true, silent: true, z: 1, encode: { x: 0, y: 1 } });
  series.push({ type: 'scatter', xAxisIndex: xi, yAxisIndex: yi, data: pts, symbol: 'circle',
    symbolSize: 3, itemStyle: { color: '#000' }, clip: true, silent: true, z: 2,
    markLine: { silent: true, symbol: 'none', label: { show: false }, animation: false,
      lineStyle: { color: '#d9534f', width: 1.5, type: 'solid' },
      data: breaks.map(b => ({ xAxis: b })) } });
  lines.forEach(l => series.push({ type: 'line', xAxisIndex: xi, yAxisIndex: yi, data: l.data,
    showSymbol: false, smooth: l.smooth || false, clip: true, silent: true, z: l.z || 3,
    lineStyle: { color: l.color, width: l.width || 1.3 } }));

  const txt = c === 0 ? trendTexts[r] : wrmsTexts[r];
  graphics.push({ type: 'text', x: colLeft[c] + colW - 2, y: rowTop[r] + rowH - 12, z: 50,
    style: { text: txt, fill: '#2b2b86', font: '13px ' + FONT, textAlign: 'right', textVerticalAlign: 'middle' } });
}

const mainA = [latPos, lonPos, upPos], mainB = [latPosB, lonPosB, upPosB];
const resA = [latRes, lonRes, upRes], resB = [latResB, lonResB, upResB];
const errs = [horErr, horErr, upErr];
const models = [latModel, lonModel, upModel];
const trends = [latTrend, lonTrend, upTrend];
const refs = [latRef, lonRef, upRef];

for (let r = 0; r < 3; r++) {
  let mPts = zip2(epochs, mainA[r]).concat(zip2(epochsB, mainB[r]));
  let mErr = zip3(epochs, mainA[r], errs[r]).concat(zip3(epochsB, mainB[r], errs[r]));
  let rPts = zip2(epochs, resA[r]).concat(zip2(epochsB, resB[r]));
  let rErr = zip3(epochs, resA[r], errs[r]).concat(zip3(epochsB, resB[r], errs[r]));
  if (r === 2) {
    mPts = mPts.concat(zip2(upOutT, upOutV));
    mErr = mErr.concat(zip3(upOutT, upOutV, upOutE));
    rPts = rPts.concat(zip2(upResOutT, upResOutV));
    rErr = rErr.concat(zip3(upResOutT, upResOutV, upResOutE));
  }
  addPanel(r, 0, leftRanges[r], mPts, mErr, [
    { data: zip2(refT, refs[r]), color: '#5fd35f', width: 1.3, z: 3 },
    { data: zip2(modelT, models[r]), color: '#c41e45', width: 1.5, smooth: 0.4, z: 4 },
    { data: zip2(trendT, trends[r]), color: '#1e1ea8', width: 1.3, z: 5 }
  ]);
  addPanel(r, 1, rightRanges[r], rPts, rErr, [
    { data: zip2(zeroT, zeroV), color: '#6ee06e', width: 1.4, z: 3 }
  ]);
}

graphics.push({ type: 'text', x: colLeft[0] + colW / 2, y: 21, style: { text: titles[0], fill: '#111',
  font: 'bold 15px ' + FONT, textAlign: 'center', textVerticalAlign: 'middle' } });
graphics.push({ type: 'text', x: colLeft[1] + colW / 2, y: 21, style: { text: titles[1], fill: '#111',
  font: 'bold 15px ' + FONT, textAlign: 'center', textVerticalAlign: 'middle' } });

const chart = echarts.init(document.getElementById('c'), null, { renderer: 'canvas' });
chart.setOption({
  animation: false, backgroundColor: '#fff',
  grid: grids, xAxis: xAxes, yAxis: yAxes, series: series, graphic: graphics
});
</script></body></html>
